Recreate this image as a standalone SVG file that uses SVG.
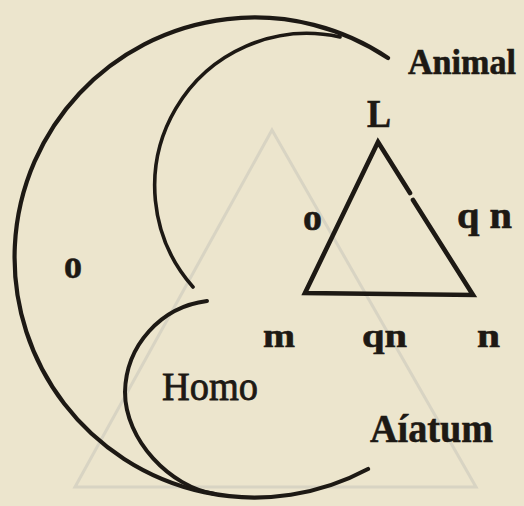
<svg xmlns="http://www.w3.org/2000/svg" width="524" height="506" viewBox="0 0 524 506">
  <style>
    .ink { fill: none; stroke: #1d1914; stroke-linecap: round; }
    .ghost { fill: none; stroke: #d2cebf; stroke-width: 3; opacity: 0.75; }
    .t { font-family: "Liberation Serif", "DejaVu Serif", serif; fill: #1d1914; stroke: #1d1914; stroke-width: 0.6; font-weight: bold; }
    .tr { font-family: "Liberation Serif", "DejaVu Serif", serif; fill: #1d1914; stroke: #1d1914; stroke-width: 0.8; font-weight: normal; }
  </style>
  <rect x="0" y="0" width="524" height="506" fill="#ece5cd"/>
  <g id="show-through">
    <path class="ghost" d="M272,130 L75,487 L476,487 Z"/>
  </g>
  <g id="connectors">
    <g id="animal-circle">
      <path class="ink" stroke-width="4.2" d="M388,58 A240,240 0 1 0 368,469"/>
    </g>
    <g id="inner-circle">
      <path class="ink" stroke-width="3.6" d="M340,37 A152.5,152.5 0 0 0 193,287"/>
    </g>
    <g id="homo-circle">
      <path class="ink" stroke-width="4" d="M207,301 A93.6,93.6 0 0 0 125,392 C125,440 170,487 215,494"/>
    </g>
    <g id="triangle">
      <path class="ink" stroke-width="4.6" stroke-linejoin="miter" stroke-linecap="butt" d="M410,193 L378,142 L305,293 L473,295 L413,200"/>
    </g>
  </g>
  <g id="label-animal"><text class="t" x="408" y="74" font-size="35" textLength="108" lengthAdjust="spacingAndGlyphs">Animal</text></g>
  <g id="label-L"><text class="t" x="367" y="127" font-size="40" textLength="24" lengthAdjust="spacingAndGlyphs">L</text></g>
  <g id="label-o-tri"><text class="t" x="303" y="230" font-size="38" textLength="19" lengthAdjust="spacingAndGlyphs">o</text></g>
  <g id="label-qn-right"><text class="t" x="457" y="228" font-size="38" textLength="55" lengthAdjust="spacingAndGlyphs">q n</text></g>
  <g id="label-o-left"><text class="t" x="64" y="278" font-size="39" textLength="18" lengthAdjust="spacingAndGlyphs">o</text></g>
  <g id="label-m"><text class="t" x="263" y="347" font-size="33" textLength="32" lengthAdjust="spacingAndGlyphs">m</text></g>
  <g id="label-qn-bottom"><text class="t" x="362" y="347" font-size="33" textLength="45" lengthAdjust="spacingAndGlyphs">qn</text></g>
  <g id="label-n"><text class="t" x="477" y="347" font-size="33" textLength="23" lengthAdjust="spacingAndGlyphs">n</text></g>
  <g id="label-homo"><text class="tr" x="162" y="400" font-size="40" textLength="96" lengthAdjust="spacingAndGlyphs">Homo</text></g>
  <g id="label-aiatum"><text class="t" x="370" y="442" font-size="40" textLength="123" lengthAdjust="spacingAndGlyphs">Aíatum</text></g>
</svg>
